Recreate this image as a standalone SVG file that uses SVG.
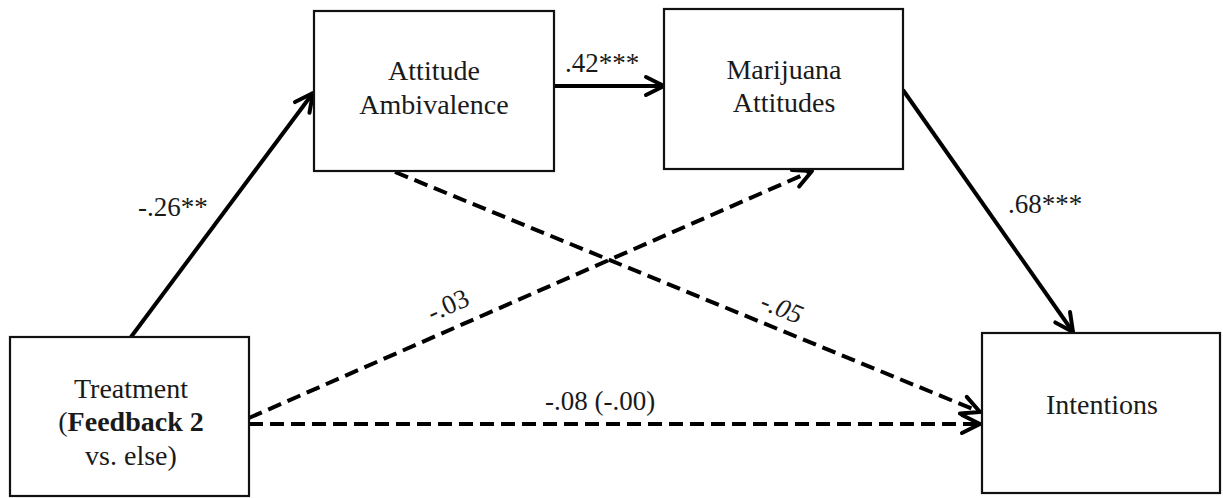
<svg xmlns="http://www.w3.org/2000/svg" width="1223" height="498" viewBox="0 0 1223 498">
<defs>
<style>
.box{fill:#fff;stroke:#111;stroke-width:2.2}
.t{font-family:"Liberation Serif","Times New Roman",serif;font-size:28px;fill:#1a1a1a;text-anchor:middle}
.lbl{font-family:"Liberation Serif","Times New Roman",serif;font-size:27px;fill:#1a1a1a}
.solid{stroke:#000;stroke-width:4;fill:none;marker-end:url(#ah)}
.dash{stroke:#000;stroke-width:4;fill:none;stroke-dasharray:14 7;marker-end:url(#ah)}
</style>
<marker id="ah" markerUnits="userSpaceOnUse" markerWidth="26" markerHeight="26" viewBox="0 0 26 26" refX="21" refY="12" orient="auto">
<path d="M3,3 L21,12 L3,21" fill="none" stroke="#000" stroke-width="4" stroke-dasharray="none" stroke-linecap="round" stroke-linejoin="round"/>
</marker>
</defs>
<rect width="1223" height="498" fill="#fff"/>
<g id="connectors">
<line class="solid" x1="131" y1="337" x2="313" y2="93"/>
<line class="solid" x1="554" y1="86" x2="664" y2="86"/>
<line class="solid" x1="903" y1="90" x2="1073" y2="332"/>
<line class="dash" x1="395" y1="172" x2="980" y2="412"/>
<line class="dash" x1="249" y1="418" x2="812" y2="171"/>
<line class="dash" x1="249" y1="424" x2="980" y2="424"/>
<text class="lbl" x="138" y="216">-.26**</text>
<text class="lbl" x="565" y="72">.42***</text>
<text class="lbl" x="1008" y="213">.68***</text>
<text class="lbl" text-anchor="middle" transform="translate(448,305) rotate(-24)" x="0" y="9">-.03</text>
<text class="lbl" text-anchor="middle" font-style="italic" transform="translate(782,308) rotate(22)" x="0" y="9">-.05</text>
<text class="lbl" x="545" y="410">-.08 (-.00)</text>
</g>
<g id="node-attitude-ambivalence">
<rect class="box" x="314" y="11" width="240" height="160"/>
<text class="t" x="434" y="80">Attitude</text>
<text class="t" x="434" y="114">Ambivalence</text>
</g>
<g id="node-marijuana-attitudes">
<rect class="box" x="664" y="9" width="239" height="160"/>
<text class="t" x="784" y="79">Marijuana</text>
<text class="t" x="784" y="112">Attitudes</text>
</g>
<g id="node-treatment">
<rect class="box" x="10" y="337" width="239" height="159"/>
<text class="t" x="131" y="398">Treatment</text>
<text class="t" x="131" y="431">(<tspan font-weight="bold">Feedback 2</tspan></text>
<text class="t" x="131" y="465">vs. else)</text>
</g>
<g id="node-intentions">
<rect class="box" x="982" y="333" width="238" height="160"/>
<text class="t" x="1102" y="414">Intentions</text>
</g>
</svg>
